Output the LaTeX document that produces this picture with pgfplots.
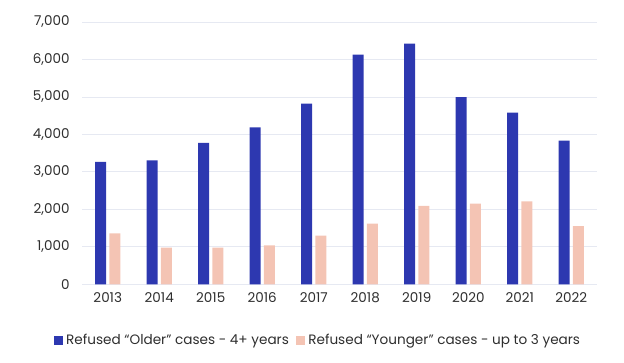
\documentclass[border=0pt]{standalone}
\usepackage{pgfplots}
\pgfplotsset{compat=1.18}
\usepackage{fontspec}
\setmainfont{Poppins}
\definecolor{oldblue}{HTML}{2D38B0}
\definecolor{youngpink}{HTML}{F4C4B4}
\definecolor{gridc}{HTML}{E6E9F2}
\definecolor{txt}{HTML}{2E2E2E}
\begin{document}
\begin{tikzpicture}
\begin{axis}[
  scale only axis,
  width=515bp, height=262.3bp,
  ybar=3.3bp, bar width=11bp,
  xmin=-0.5, xmax=9.5,
  ymin=0, ymax=7000,
  xtick={0,...,9},
  xticklabels={2013,2014,2015,2016,2017,2018,2019,2020,2021,2022},
  ytick={0,1000,2000,3000,4000,5000,6000,7000},
  /pgf/number format/.cd, 1000 sep={,}, assume math mode=true,
  /pgfplots/.cd,
  scaled y ticks=false,
  axis line style={draw=none},
  major tick length=0pt,
  ymajorgrids, grid style={gridc, line width=0.8pt},
  tick label style={font=\fontsize{13.5bp}{15bp}\selectfont, text=txt},
  yticklabel style={xshift=-9bp},
  xticklabel style={yshift=-5bp},
  legend style={at={(0.458,-0.2126)}, anchor=center, draw=none, fill=none,
    font=\fontsize{13.6bp}{15bp}\selectfont, text=txt,
    legend columns=2, /tikz/every even column/.append style={column sep=5bp}},
  legend image code/.code={\fill[#1] (0bp,-4.5bp) rectangle (9bp,4.5bp);},
]
\addplot[fill=oldblue, draw=none] coordinates {(0,3270) (1,3310) (2,3775) (3,4185) (4,4825) (5,6130) (6,6425) (7,4995) (8,4580) (9,3835)};
\addlegendentry{\hspace{1.5bp}Refused “Older” cases - 4+ years}
\addplot[fill=youngpink, draw=none] coordinates {(0,1360) (1,980) (2,980) (3,1040) (4,1300) (5,1620) (6,2090) (7,2150) (8,2215) (9,1550)};
\addlegendentry{\hspace{1.5bp}Refused “Younger” cases - up to 3 years}
\end{axis}
\pgfresetboundingbox
\path (current axis.south west) ++(-82bp,-78.7bp) rectangle ++(624bp,363bp);
\end{tikzpicture}
\end{document}
